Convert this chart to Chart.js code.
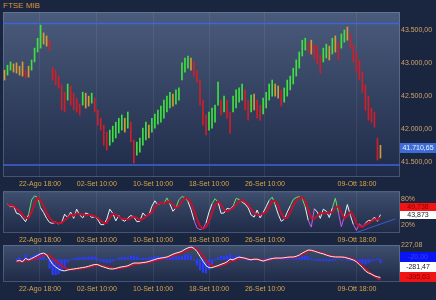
<!DOCTYPE html>
<html>
<head>
<meta charset="utf-8">
<script src="https://cdn.jsdelivr.net/npm/chart.js@4/dist/chart.umd.min.js"></script>
<style>
  html, body { margin: 0; padding: 0; background: #1a2540; }
  #wrap { position: relative; width: 436px; height: 300px; overflow: hidden; }
  canvas { position: absolute; left: 0; }
  #title { position: absolute; left: 3px; top: 1px; font: 8px "Liberation Sans", Arial, sans-serif; color: #d8923a; }
</style>
</head>
<body>
<div id="wrap">
  <div id="title">FTSE MIB</div>
  <canvas id="main" width="436" height="192" style="top:0"></canvas>
  <canvas id="stoch" width="436" height="60" style="top:186px"></canvas>
  <canvas id="macd" width="436" height="64" style="top:236px"></canvas>
</div>
<script>
'use strict';
const FONT = '"Liberation Sans", Arial, sans-serif';
const NTOT = 132; // bar slots on the time axis (last few empty)

// time axis
const tickIdx = [11.8, 30.7, 49.4, 68.0, 86.6, 117.2];
const tickLabels = ['22-Ago 18:00', '02-Set 10:00', '10-Set 10:00', '18-Set 10:00', '26-Set 10:00', '09-Ott 18:00'];

// price bars
const highs = [42890, 42965, 43015, 42985, 43000, 42950, 43015, 42890, 42950, 43045,
  43225, 43375, 43575, 43455, 43410, 43345, 42935, 42890, 42800, 42665,
  42555, 42680, 42650, 42540, 42465, 42375, 42555, 42540, 42495, 42540,
  42465, 42285, 42160, 42055, 41950, 41980, 42040, 42100, 42160, 42210,
  42160, 42255, 42100, 41830, 41800, 41860, 42010, 42100, 42055, 42160,
  42225, 42285, 42345, 42435, 42495, 42555, 42525, 42590, 42620, 43000,
  43075, 43105, 43075, 43015, 42890, 42740, 42435, 42210, 42255, 42315,
  42360, 42710, 42435, 42495, 42435, 42255, 42495, 42590, 42620, 42680,
  42590, 42435, 42510, 42525, 42435, 42360, 42465, 42555, 42680, 42740,
  42680, 42650, 42590, 42620, 42740, 42800, 42920, 43045, 43165, 43345,
  43375, 43315, 43345, 43285, 43255, 43120, 43225, 43285, 43255, 43375,
  43410, 43315, 43440, 43500, 43545, 43440, 43270, 43165, 43045, 42860,
  42665, 42495, 42315, 42255, 41860, 41750];
const lows = [42740, 42815, 42890, 42860, 42845, 42815, 42800, 42770, 42785, 42890,
  43015, 43165, 43225, 43285, 43255, 43195, 42740, 42665, 42620, 42285,
  42255, 42435, 42360, 42285, 42255, 42210, 42360, 42315, 42345, 42390,
  42255, 42055, 41980, 41750, 41675, 41750, 41800, 41860, 41935, 41980,
  41950, 42010, 41800, 41480, 41600, 41645, 41750, 41830, 41860, 41950,
  42010, 42070, 42100, 42160, 42255, 42315, 42345, 42375, 42435, 42740,
  42860, 42920, 42890, 42800, 42710, 42360, 42055, 41905, 41980, 42010,
  42100, 42360, 42210, 42255, 42160, 41935, 42255, 42315, 42405, 42435,
  42285, 42130, 42255, 42285, 42160, 42130, 42225, 42315, 42435, 42495,
  42495, 42465, 42345, 42405, 42495, 42590, 42680, 42800, 42920, 43105,
  43195, 43165, 43135, 43075, 42985, 42845, 43015, 43075, 43045, 43135,
  43165, 43045, 43225, 43315, 43345, 43225, 43015, 42860, 42740, 42555,
  42285, 42130, 42100, 42025, 41525, 41555];
const levels = [43600, 41450];
const priceTicks = [41500, 42000, 42500, 43000, 43500];
const lastPrice = 41710.65;

// stochastic
const stochK = [null, 69, 63, 65, 47, 45, 36, 27, 44, 79,
  89, 85, 60, 49, 35, 25, 23, 26, 22, 25,
  45, 37, 50, 35, 57, 43, 36, 48, 45, 37,
  39, 32, 20, 20, 33, 57, 47, 29, 42, 32,
  28, 36, 42, 38, 27, 28, 48, 40, 43, 64,
  77, 67, 72, 70, 84, 69, 52, 60, 80, 87,
  85, 75, 56, 31, 12, 8, 11, 24, 50, 70,
  82, 74, 47, 48, 59, 57, 64, 83, 80, 74,
  69, 60, 43, 38, 55, 36, 49, 63, 78, 86,
  67, 45, 28, 33, 50, 65, 80, 85, 87, 82,
  62, 30, 14, 58, 50, 35, 57, 52, 37, 60,
  83, 50, 15, 40, 68, 42, 20, 6, 22, 15,
  24, 30, 30, 38, 28, 43.873];
const stochD = [null, 69, 66, 66, 58, 52, 43, 36, 36, 50,
  71, 84, 78, 65, 48, 36, 28, 25, 24, 24,
  31, 36, 44, 41, 47, 45, 45, 42, 43, 43,
  40, 36, 30, 24, 24, 37, 46, 44, 39, 34,
  34, 32, 35, 39, 36, 31, 34, 39, 44, 49,
  61, 69, 72, 70, 75, 74, 68, 60, 64, 76,
  84, 82, 72, 54, 33, 17, 10, 14, 28, 48,
  67, 75, 68, 56, 51, 55, 60, 68, 76, 79,
  74, 68, 57, 47, 45, 43, 47, 49, 63, 76,
  77, 66, 47, 35, 37, 49, 65, 77, 84, 85,
  77, 58, 35, 34, 41, 48, 47, 48, 49, 50,
  60, 64, 49, 35, 41, 50, 43, 23, 16, 14,
  20, 23, 28, 33, 32, 37];
const stochTicks = [20, 80];
const stochTrend = [[117, 1], [130, 34]];
const stochLastD = 49.738;
const stochLastK = 43.873;

// macd
const macdLine = [null, null, null, null, -25, -15, -35, 18, -5, 15,
  40, 65, 90, 100, 75, 0, -75, -115, -150, -172,
  -178, -165, -155, -148, -140, -133, -125, -118, -105, -90,
  -78, -80, -102, -118, -133, -147, -149, -140, -125, -115,
  -108, -98, -75, -55, -55, -55, -48, -42, -30, -15,
  0, 15, 23, 30, 39, 60, 82, 100, 112, 130,
  160, 182, 196, 175, 125, 50, -25, -95, -128, -128,
  -110, -95, -75, -60, -35, 5, -5, 20, 38, 30,
  20, 5, -5, 5, 5, -10, -25, -10, 5, 15,
  23, 23, 23, 28, 35, 39, 39, 50, 70, 100,
  125, 148, 145, 130, 115, 100, 88, 70, 55, 45,
  40, 39, 39, 35, 22, 8, -8, -35, -80, -125,
  -180, -210, -230, -255, -270, -281.47];
const signalLine = [null, null, null, null, -30, -28, -30, -15, -12, -5,
  10, 30, 50, 68, 75, 55, 20, -20, -60, -100,
  -130, -148, -155, -155, -150, -145, -138, -130, -120, -108,
  -95, -88, -92, -102, -115, -128, -138, -140, -135, -128,
  -120, -110, -95, -80, -70, -63, -57, -50, -42, -30,
  -18, -5, 8, 18, 28, 42, 60, 78, 95, 110,
  130, 152, 172, 178, 160, 115, 55, -10, -65, -100,
  -112, -108, -95, -80, -60, -30, -20, -5, 15, 22,
  20, 12, 3, 2, 3, -3, -15, -15, -5, 5,
  15, 20, 22, 25, 30, 35, 37, 43, 58, 80,
  105, 130, 140, 135, 122, 108, 95, 80, 65, 52,
  45, 40, 38, 36, 28, 15, 0, -25, -60, -100,
  -150, -190, -225, -260, -290, -320];
const macdHist = [null, null, null, null, 5, 13, -5, 33, 7, 20,
  30, 35, 40, 32, 0, -55, -95, -95, -90, -72,
  -48, -17, 0, 7, 10, 12, 13, 12, 15, 18,
  17, 8, -10, -16, -18, -19, -11, 0, 10, 13,
  12, 12, 20, 25, 15, 8, 9, 8, 12, 15,
  18, 20, 15, 12, 11, 18, 22, 22, 17, 20,
  30, 30, 24, -3, -35, -65, -80, -85, -63, -28,
  2, 13, 20, 20, 25, 35, 15, 25, 23, 8,
  0, -7, -8, 3, 2, -7, -10, 5, 10, 10,
  8, 3, 1, 3, 5, 4, 2, 7, 12, 20,
  20, 18, 5, -5, -7, -8, -7, -10, -10, -7,
  -5, -1, 1, -1, -6, -7, -8, -10, -20, -25,
  -30, -20, -10, -5, 5, -20];
const macdTicks = [227.08];
const histLast = -20;
const macdLast = -281.47;
const signalLast = -395.63;

const GREEN = '#3fe03f';
const RED = '#d21e28';
const ORANGE = '#d49a34';

function itNum(v, d) {
  const s = Math.abs(v).toFixed(d).split('.');
  const int = s[0].replace(/\B(?=(\d{3})+(?!\d))/g, '.');
  return (v < 0 ? '-' : '') + int + (d ? ',' + s[1] : '');
}

const toPts = arr => arr.map((v, i) => ({ x: i, y: v }));

// gradient panel behind the plot area
const panelBg = {
  id: 'panelBg',
  beforeDraw(chart, args, opts) {
    const { ctx, chartArea: a } = chart;
    const g = ctx.createLinearGradient(0, a.top, 0, a.bottom);
    g.addColorStop(0, opts.top);
    g.addColorStop(1, opts.bottom);
    ctx.save();
    ctx.fillStyle = g;
    ctx.fillRect(a.left, a.top, a.width, a.height);
    ctx.strokeStyle = 'rgba(140,160,195,0.35)';
    ctx.lineWidth = 1;
    ctx.strokeRect(a.left + 0.5, a.top + 0.5, a.width - 1, a.height - 1);
    ctx.restore();
  }
};

// value boxes on the right axis, stacked upward so they don't overlap
const boxLabels = {
  id: 'boxLabels',
  afterDraw(chart, args, opts) {
    if (!opts.items) return;
    const { ctx, chartArea } = chart;
    const ys = chart.scales.y;
    const h = opts.h;
    const items = opts.items.map(it => Object.assign({}, it, { py: ys.getPixelForValue(it.value) }))
      .sort((a, b) => b.py - a.py);
    let limit = chartArea.bottom - h / 2;
    items.forEach(it => {
      it.cy = Math.min(it.py, limit);
      limit = it.cy - h;
    });
    ctx.save();
    ctx.font = '7px ' + FONT;
    ctx.textAlign = 'center';
    ctx.textBaseline = 'middle';
    items.forEach(it => {
      ctx.fillStyle = it.bg;
      ctx.fillRect(chartArea.right, Math.round(it.cy - h / 2), chart.width - chartArea.right, h);
      ctx.fillStyle = it.fg;
      ctx.fillText(it.text, (chartArea.right + chart.width) / 2, it.cy + 0.5);
    });
    ctx.restore();
  }
};

function xAxis(h) {
  return {
    type: 'linear', min: -0.5, max: NTOT - 0.5, offset: false,
    afterBuildTicks: s => { s.ticks = tickIdx.map(v => ({ value: v })); },
    afterFit: s => { s.height = h; },
    ticks: { autoSkip: false, maxRotation: 0, padding: 3, color: '#d8a548', font: { size: 7, family: FONT },
      callback: (v, i) => tickLabels[i] },
    grid: { color: 'rgba(255,255,255,0.07)', drawTicks: false, offset: false },
    border: { display: false }
  };
}

function yAxis(min, max, ticks, fmt) {
  return {
    position: 'right', min: min, max: max,
    afterBuildTicks: s => { s.ticks = ticks.map(v => ({ value: v })); },
    afterFit: s => { s.width = 36; },
    ticks: { padding: 1, color: '#cfa468', font: { size: 7, family: FONT }, callback: fmt },
    grid: { display: false, drawTicks: false },
    border: { display: false }
  };
}

const barColors = highs.map((h, i) => {
  if (i === 0) return ORANGE;
  const d = (h + lows[i]) / 2 - (highs[i - 1] + lows[i - 1]) / 2;
  return d > 40 ? GREEN : d < -40 ? RED : ORANGE;
});

const base = {
  responsive: false,
  animation: false,
  events: [],
  elements: { point: { radius: 0 }, line: { tension: 0 } }
};

new Chart(document.getElementById('main'), {
  type: 'bar',
  data: {
    datasets: [
      ...levels.map(v => ({
        type: 'line', data: [{ x: -0.5, y: v }, { x: NTOT - 0.5, y: v }],
        borderColor: '#3f63d8', borderWidth: 1.5, pointRadius: 0
      })),
      {
        data: highs.map((h, i) => ({ x: i, y: [lows[i], h] })),
        backgroundColor: barColors, barThickness: 1, grouped: false
      }
    ]
  },
  options: Object.assign({}, base, {
    layout: { padding: { left: 3, top: 12, right: 0, bottom: 0 } },
    plugins: {
      legend: { display: false }, tooltip: { enabled: false },
      panelBg: { top: '#4b5b7b', bottom: '#1e2a48' },
      boxLabels: { h: 10, items: [{ value: lastPrice, text: itNum(lastPrice, 2), bg: '#3e6cd6', fg: '#eef3ff' }] }
    },
    scales: { x: xAxis(15), y: yAxis(41268, 43773, priceTicks, v => itNum(v, 2)) }
  }),
  plugins: [panelBg, boxLabels]
});

const kColor = c => {
  const a = c.p0.parsed.y, b = c.p1.parsed.y;
  if (a > 78 || b > 78) return '#66e066';
  if (a < 20 || b < 20) return '#c85ae6';
  return '#f4ecf4';
};

new Chart(document.getElementById('stoch'), {
  type: 'line',
  data: {
    datasets: [
      { data: toPts(stochD), borderColor: '#c0122e', borderWidth: 2 },
      { data: toPts(stochK), borderColor: '#f4ecf4', borderWidth: 1, segment: { borderColor: kColor } },
      { data: stochTrend.map(p => ({ x: p[0], y: p[1] })), borderColor: '#3c5ad2', borderWidth: 1 }
    ]
  },
  options: Object.assign({}, base, {
    layout: { padding: { left: 3, top: 2, right: 0, bottom: 0 } },
    plugins: {
      legend: { display: false }, tooltip: { enabled: false },
      panelBg: { top: '#3f4f6f', bottom: '#1e2a46' },
      boxLabels: { h: 8, items: [
        { value: stochLastD, text: itNum(stochLastD, 3), bg: '#f01414', fg: '#8a0000' },
        { value: stochLastK, text: itNum(stochLastK, 3), bg: '#ffffff', fg: '#141c30' }
      ] }
    },
    scales: { x: xAxis(13), y: yAxis(0, 100, stochTicks, v => v + '%') }
  }),
  plugins: [panelBg, boxLabels]
});

new Chart(document.getElementById('macd'), {
  type: 'bar',
  data: {
    datasets: [
      { data: toPts(signalLine), type: 'line', borderColor: '#c0122e', borderWidth: 2, order: 2 },
      { data: toPts(macdLine), type: 'line', borderColor: '#f2eef4', borderWidth: 1, order: 1 },
      { data: toPts(macdHist), yAxisID: 'yh', backgroundColor: '#2a3cff', barThickness: 1.5, grouped: false, order: 3 }
    ]
  },
  options: Object.assign({}, base, {
    layout: { padding: { left: 3, top: 9, right: 0, bottom: 0 } },
    plugins: {
      legend: { display: false }, tooltip: { enabled: false },
      panelBg: { top: '#3f4f6f', bottom: '#1e2a46' },
      boxLabels: { h: 10, items: [
        { value: histLast, text: itNum(histLast, 2), bg: '#0814f4', fg: '#3444ff' },
        { value: macdLast, text: itNum(macdLast, 2), bg: '#ffffff', fg: '#141c30' },
        { value: signalLast, text: itNum(signalLast, 2), bg: '#f01414', fg: '#8a0000' }
      ] }
    },
    scales: {
      x: xAxis(18),
      y: yAxis(-352, 227.08, macdTicks, v => itNum(v, 2)),
      yh: { display: false, min: -140.8, max: 90.8 }
    }
  }),
  plugins: [panelBg, boxLabels]
});
</script>
</body>
</html>
